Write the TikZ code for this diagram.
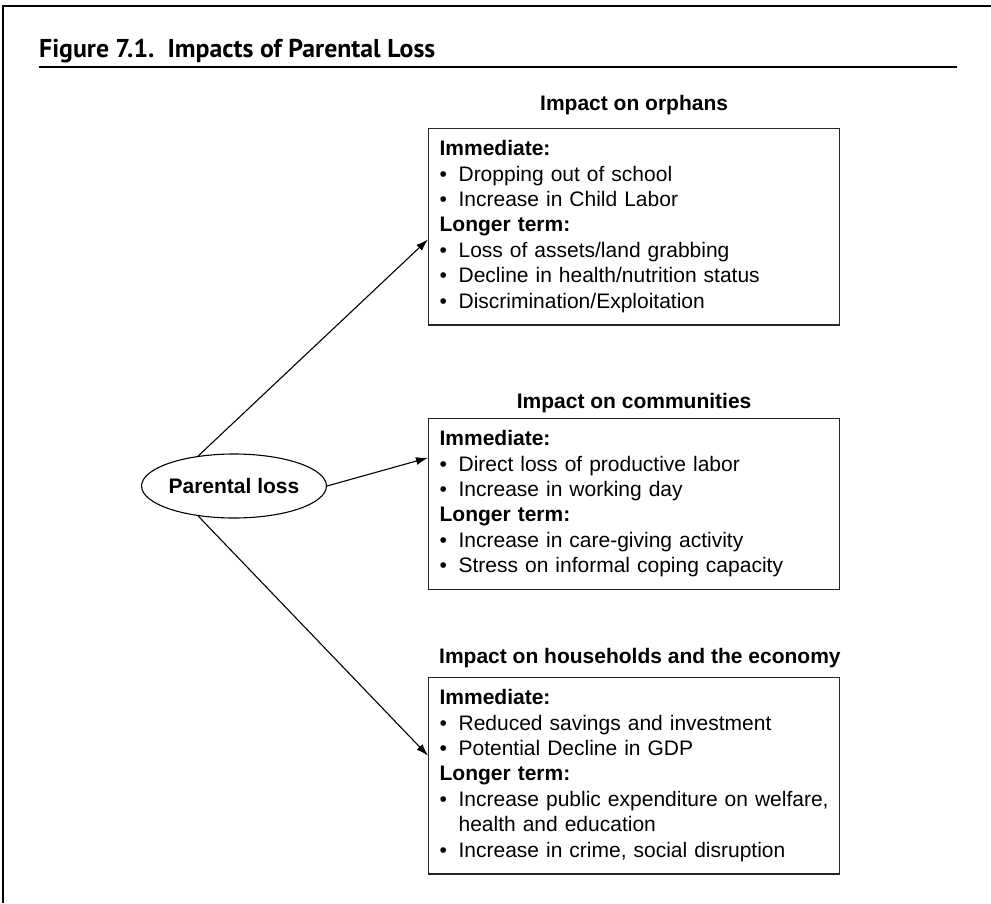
\documentclass[tikz,border=0pt]{standalone}
\usepackage{fontspec}
\setmainfont{Liberation Sans}
\newfontfamily\titlefont{PT Sans}
\usetikzlibrary{arrows.meta,calc,shapes.geometric}

\newcommand{\itm}[1]{\makebox[19pt][l]{\textbullet}\mbox{#1}}
\newcommand{\firststrut}{\rule{0pt}{27pt}}
\newcommand{\laststrut}{\rule[-17pt]{0pt}{17pt}}

\begin{document}
\begin{tikzpicture}[x=1pt,y=-1pt,
    font=\fontsize{21}{25.4}\selectfont,
    impact/.style={draw=black!85, line width=1.2pt, anchor=north west,
      text width=389pt, inner xsep=11pt, inner ysep=0pt, align=left},
    boxhead/.style={font=\fontsize{21}{25.4}\selectfont\bfseries, inner sep=0pt},
    link/.style={-{Latex[length=12pt,width=8pt]}, line width=1.1pt}]
    \useasboundingbox (0,0) rectangle (991,903);
    \fill[white] (0,0) rectangle (991,903);
    % frame and title
    \draw[line width=2.8pt] (3,903) -- (3,6) -- (991,6);
    \node[anchor=base west, inner sep=0pt,
      font=\titlefont\bfseries\fontsize{25.8}{28}\selectfont] (title) at (39,57)
      {Figure 7.1.\ \ Impacts of Parental Loss};
    \draw[line width=1.3pt] (39,67) -- (957,67);
    % source
    \node[draw, ellipse, minimum width=168pt, minimum height=64pt, inner sep=0pt,
      line width=1.1pt, font=\fontsize{21}{25.4}\selectfont\bfseries] (loss) at (234,486)
      {Parental loss};
    % impact boxes
    \node[impact] (orph) at (428,128)
      {\firststrut\textbf{Immediate:}\\
       \itm{Dropping out of school}\\
       \itm{Increase in Child Labor}\\
       \textbf{Longer term:}\\
       \itm{Loss of assets/land grabbing}\\
       \itm{Decline in health/nutrition status}\\
       \itm{Discrimination/Exploitation}\laststrut};
    \node[impact] (comm) at (428,418)
      {\firststrut\textbf{Immediate:}\\
       \itm{Direct loss of productive labor}\\
       \itm{Increase in working day}\\
       \textbf{Longer term:}\\
       \itm{Increase in care-giving activity}\\
       \itm{Stress on informal coping capacity}\laststrut};
    \node[impact] (hous) at (428,677)
      {\firststrut\textbf{Immediate:}\\
       \itm{Reduced savings and investment}\\
       \itm{Potential Decline in GDP}\\
       \textbf{Longer term:}\\
       \itm{Increase public expenditure on welfare,}\\
       \hspace*{19pt}health and education\\
       \itm{Increase in crime, social disruption}\laststrut};
    % headings
    \node[boxhead, anchor=base] (orphhead) at (orph.north |- 0,110) {Impact on orphans};
    \node[boxhead, anchor=base] (commhead) at (comm.north |- 0,408) {Impact on communities};
    \node[boxhead, anchor=base west] (hoshead) at (439,663) {Impact on households and the economy};
    % arrows
    \draw[link] (loss.140) -- ($(orph.north west)!0.564!(orph.south west)$);
    \draw[link] (loss.east) -- ($(comm.north west)!0.231!(comm.south west)$);
    \draw[link] (loss.220) -- ($(hous.north west)!0.398!(hous.south west)$);
\end{tikzpicture}
\end{document}
